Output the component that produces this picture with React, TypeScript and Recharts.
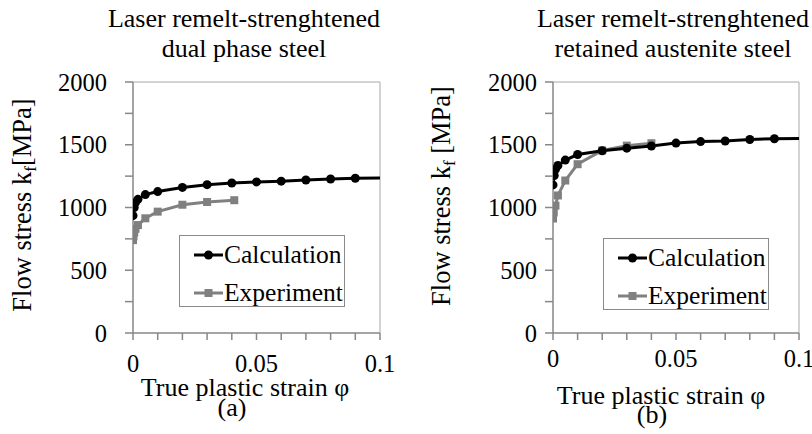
import React from 'react';
import { LineChart, Line, XAxis, YAxis, ReferenceLine } from 'recharts';

const xTicks = [0, 0.01, 0.02, 0.03, 0.04, 0.05, 0.06, 0.07, 0.08, 0.09, 0.1];
const yTicks = [0, 250, 500, 750, 1000, 1250, 1500, 1750, 2000];
const xLabelTicks = [0, 0.05, 0.1];
const yLabelTicks = [0, 500, 1000, 1500, 2000];

const dualCalcX = [0, 0.0005, 0.001, 0.002, 0.005, 0.01, 0.02, 0.03, 0.04, 0.05, 0.06, 0.07, 0.08, 0.09, 0.1];
const dualCalcY = [935, 1000, 1040, 1065, 1103, 1127, 1160, 1182, 1195, 1204, 1210, 1219, 1227, 1233, 1235];
const dualExpX = [0, 0.0002, 0.0005, 0.001, 0.002, 0.005, 0.01, 0.02, 0.03, 0.041];
const dualExpY = [740, 770, 800, 830, 860, 914, 967, 1022, 1044, 1058];

const retCalcX = [0, 0.0005, 0.001, 0.002, 0.005, 0.01, 0.02, 0.03, 0.04, 0.05, 0.06, 0.07, 0.08, 0.09, 0.1];
const retCalcY = [1180, 1255, 1305, 1335, 1378, 1422, 1452, 1473, 1490, 1513, 1525, 1530, 1542, 1548, 1550];
const retExpX = [0, 0.0003, 0.001, 0.002, 0.005, 0.01, 0.02, 0.03, 0.04];
const retExpY = [912, 960, 1015, 1096, 1215, 1345, 1455, 1493, 1512];

const seriesNames = ['Calculation', 'Experiment'];
const titles = [
  ['Laser remelt-strenghtened', 'dual phase steel'],
  ['Laser remelt-strenghtened', 'retained austenite steel'],
];
const xAxisTitle = 'True plastic strain φ';
const panelLabels = ['(a)', '(b)'];

const FONT = '"Liberation Serif", "Times New Roman", serif';
const CALC = '#000000';
const EXP = '#808080';
const AXIS = '#878787';
const BORDER = '#c4c4c4';

const zip = (xs: number[], ys: number[]) => xs.map((x, i) => ({ x, y: ys[i] }));

const CalcDot = (props: any) => {
  const { cx, cy, payload, index } = props;
  if (payload.x >= 0.1) return <g key={`c${index}`} />;
  return <circle key={`c${index}`} cx={cx} cy={cy} r={4.5} fill={CALC} />;
};
const ExpDot = (props: any) => {
  const { cx, cy, index } = props;
  return <rect key={`e${index}`} x={cx - 4} y={cy - 4} width={8} height={8} fill={EXP} />;
};

type PanelProps = {
  calc: { x: number; y: number }[];
  exp: { x: number; y: number }[];
  marginLeft: number;
  marginRight: number;
  xTickMargin: number;
  yTickMargin: number;
};

const Panel = ({ calc, exp, marginLeft, marginRight, xTickMargin, yTickMargin }: PanelProps) => (
  <LineChart width={406} height={434} margin={{ top: 82, right: marginRight, bottom: 0, left: 0 }}>
    <XAxis
      type="number"
      dataKey="x"
      domain={[0, 0.1]}
      ticks={xTicks}
      allowDataOverflow
      height={101}
      tickSize={7}
      tickMargin={xTickMargin}
      stroke={AXIS}
      strokeWidth={1.5}
      tickFormatter={(v: number) => (xLabelTicks.some((t) => Math.abs(t - v) < 1e-9) ? String(v) : '')}
      tick={{ fill: '#000', fontSize: 24.5, fontFamily: FONT }}
      interval={0}
    />
    <YAxis
      type="number"
      dataKey="y"
      domain={[0, 2000]}
      ticks={yTicks}
      width={marginLeft}
      tickSize={8}
      tickMargin={yTickMargin}
      stroke={AXIS}
      strokeWidth={1.5}
      tickFormatter={(v: number) => (yLabelTicks.includes(v) ? String(v) : '')}
      tick={{ fill: '#000', fontSize: 24.5, fontFamily: FONT }}
      interval={0}
    />
    <ReferenceLine y={2000} stroke={BORDER} strokeWidth={1.5} />
    <ReferenceLine x={0.1} stroke={BORDER} strokeWidth={1.5} />
    <Line
      data={exp}
      dataKey="y"
      name={seriesNames[1]}
      type="linear"
      stroke={EXP}
      strokeWidth={3}
      dot={ExpDot}
      isAnimationActive={false}
    />
    <Line
      data={calc}
      dataKey="y"
      name={seriesNames[0]}
      type="linear"
      stroke={CALC}
      strokeWidth={3}
      dot={CalcDot}
      isAnimationActive={false}
    />
  </LineChart>
);

const LegendBox = ({ left, top }: { left: number; top: number }) => (
  <div
    style={{
      position: 'absolute',
      left,
      top,
      width: 166,
      height: 72,
      border: '1.5px solid #8a8a8a',
      background: '#fff',
      boxSizing: 'border-box',
      fontFamily: FONT,
      fontSize: 25.5,
      color: '#000',
    }}
  >
    {seriesNames.map((name, i) => (
      <div
        key={name}
        style={{ position: 'absolute', left: 14, top: i === 0 ? 4 : 42, height: 30, display: 'flex', alignItems: 'center', whiteSpace: 'nowrap' }}
      >
        <svg width={29} height={14} style={{ marginRight: 1 }}>
          <line x1={0} y1={7} x2={29} y2={7} stroke={i === 0 ? CALC : EXP} strokeWidth={3} />
          {i === 0 ? <circle cx={14.5} cy={7} r={4.5} fill={CALC} /> : <rect x={10.5} y={3} width={8} height={8} fill={EXP} />}
        </svg>
        <span style={{ lineHeight: '30px' }}>{name}</span>
      </div>
    ))}
  </div>
);

const textBase: React.CSSProperties = {
  position: 'absolute',
  fontFamily: FONT,
  color: '#000',
  whiteSpace: 'nowrap',
};

const Title = ({ cx, lines }: { cx: number; lines: string[] }) => (
  <div style={{ ...textBase, left: cx, top: 4, transform: 'translateX(-50%)', fontSize: 26, lineHeight: '30px', textAlign: 'center' }}>
    {lines.map((l) => (
      <div key={l}>{l}</div>
    ))}
  </div>
);

const YTitle = ({ cx, cy, spaced }: { cx: number; cy: number; spaced: boolean }) => (
  <div
    style={{
      ...textBase,
      left: cx,
      top: cy,
      transform: 'translate(-50%, -50%) rotate(-90deg)',
      fontSize: 26.5,
      lineHeight: '30px',
    }}
  >
    Flow stress k<sub style={{ fontSize: 17, verticalAlign: 'baseline', position: 'relative', top: 5 }}>f</sub>
    {spaced ? ' ' : ''}[MPa]
  </div>
);

const Centered = ({ cx, baseline, text, size }: { cx: number; baseline: number; text: string; size: number }) => (
  <div
    style={{
      ...textBase,
      left: cx,
      top: baseline - Math.round(size * 0.891) - 1,
      transform: 'translateX(-50%)',
      fontSize: size,
      lineHeight: `${Math.round(size * 1.107)}px`,
    }}
  >
    {text}
  </div>
);

export default function App() {
  return (
    <div style={{ position: 'absolute', left: 0, top: 0, width: 812, height: 434, background: '#fff', overflow: 'hidden' }}>
      <div style={{ position: 'absolute', left: 0, top: 0 }}>
        <Panel calc={zip(dualCalcX, dualCalcY)} exp={zip(dualExpX, dualExpY)} marginLeft={133} marginRight={26} xTickMargin={15} yTickMargin={18} />
      </div>
      <div style={{ position: 'absolute', left: 406, top: 0 }}>
        <Panel calc={zip(retCalcX, retCalcY)} exp={zip(retExpX, retExpY)} marginLeft={147} marginRight={13} xTickMargin={10} yTickMargin={8} />
      </div>
      <Title cx={244} lines={titles[0]} />
      <Title cx={673} lines={titles[1]} />
      <YTitle cx={24} cy={205} spaced={false} />
      <YTitle cx={443} cy={196} spaced={true} />
      <Centered cx={245} baseline={397} text={xAxisTitle} size={26} />
      <Centered cx={232} baseline={417} text={panelLabels[0]} size={26} />
      <Centered cx={661} baseline={405} text={xAxisTitle} size={26} />
      <Centered cx={652} baseline={424} text={panelLabels[1]} size={26} />
      <LegendBox left={179} top={235} />
      <LegendBox left={603} top={238} />
    </div>
  );
}
